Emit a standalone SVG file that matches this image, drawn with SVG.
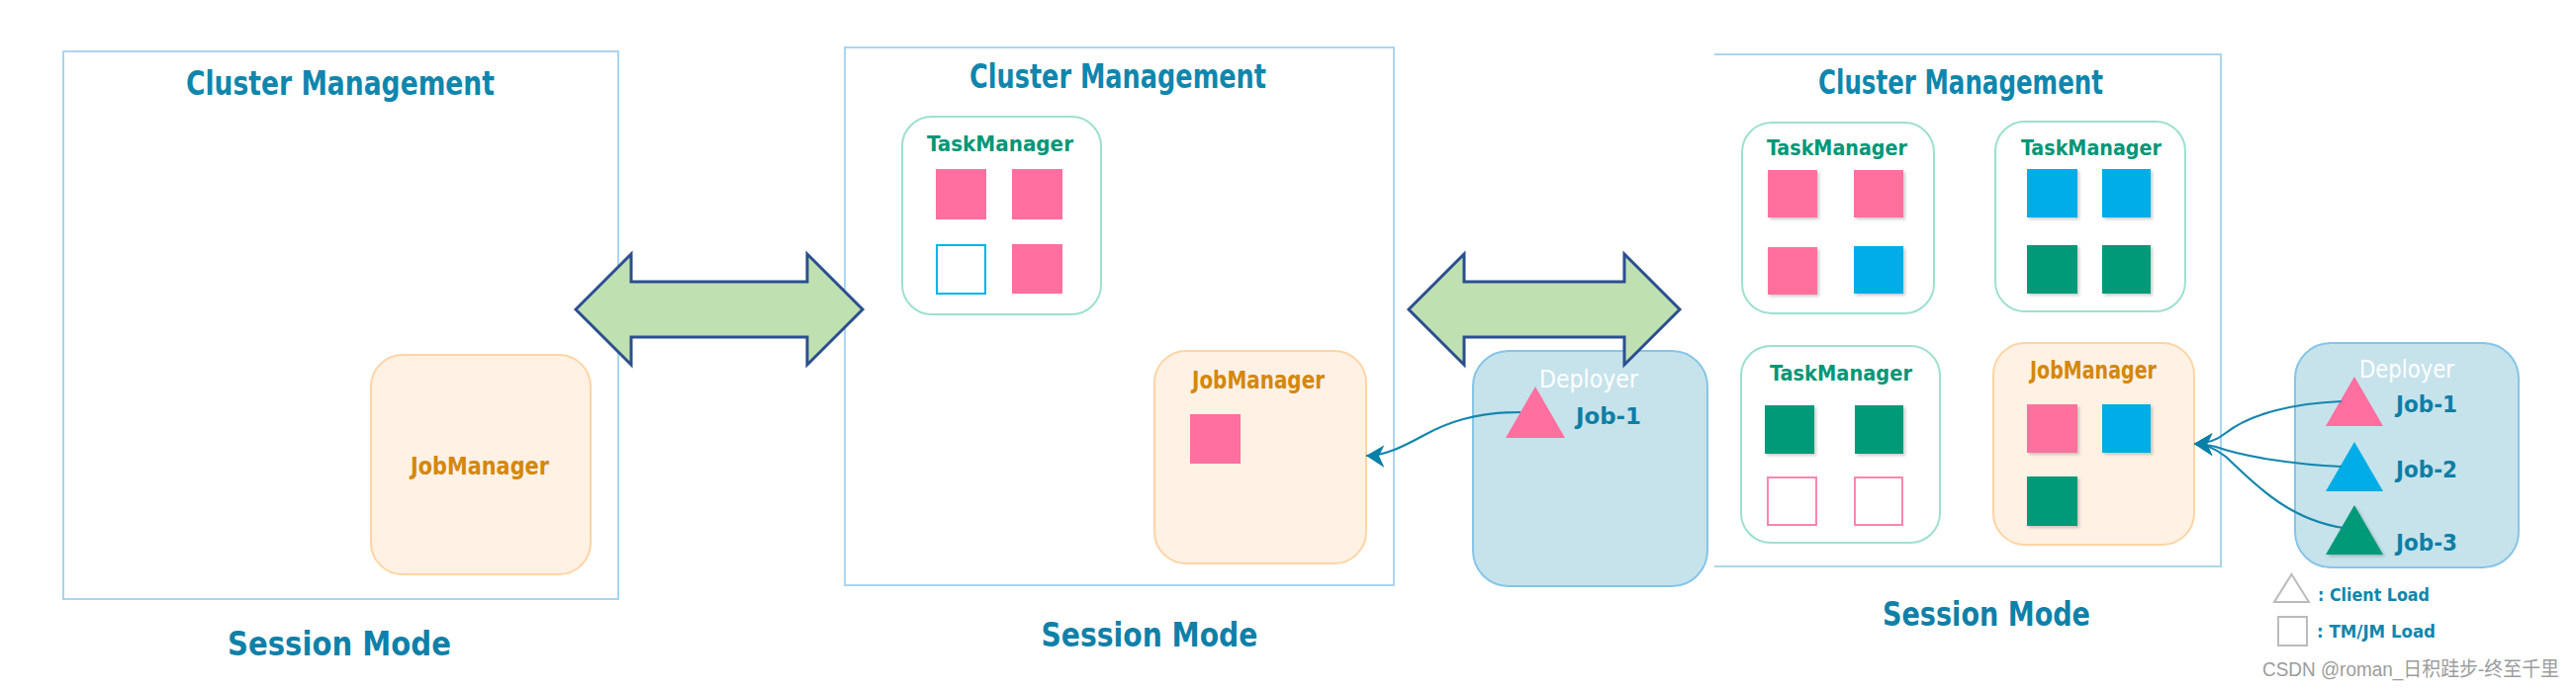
<svg xmlns="http://www.w3.org/2000/svg" width="2604" height="698" viewBox="0 0 2604 698">
<style>
.t{font-family:"DejaVu Sans Condensed","DejaVu Sans",sans-serif;font-stretch:condensed;font-weight:bold}
.cm{fill:#0F86AD;font-size:33px;text-anchor:middle}
.sm{fill:#0F80A8;font-size:34px;text-anchor:middle}
.tmt{fill:#009676;font-size:22px;text-anchor:middle}
.jmt{fill:#D4870A;font-size:24px;text-anchor:middle}
.dpt{fill:#FFFFFF;font-size:24px;text-anchor:middle;font-weight:normal}
.job{fill:#0E7EA6;font-size:23px}
.lg{fill:#0F86AD;font-size:17px}
.panel{fill:#FFFFFF;stroke:#AAD5F0;stroke-width:2}
.tm{fill:#FFFFFF;stroke:#9DE0CF;stroke-width:2}
.jm{fill:#FFF1E4;stroke:#FFD4A3;stroke-width:2}
.dp{fill:#C6E3EB;stroke:#86C5E8;stroke-width:2}
.pk{fill:#FF6F9F}
.bl{fill:#00ADE6}
.gr{fill:#009A78}
.dbl{fill:#BFE0B0;stroke:#2B4F8F;stroke-width:3;stroke-linejoin:miter}
.con{fill:none;stroke:#1386AE;stroke-width:2.2;marker-end:url(#ah)}
.leg{fill:none;stroke:#BBBBBB;stroke-width:2}
</style>
<defs>
<marker id="ah" markerUnits="userSpaceOnUse" markerWidth="24" markerHeight="26" viewBox="-2 -12 22 24" refX="0" refY="0" orient="0">
<path d="M0,0 L17,-10 L12,0 L17,11 Z" fill="#0A7FA8"/>
</marker>
<filter id="sh" x="-20%" y="-20%" width="150%" height="150%">
<feDropShadow dx="2" dy="2" stdDeviation="1.5" flood-color="#000" flood-opacity="0.2"/>
</filter>
</defs>

<g id="panel1">
<rect class="panel" x="64" y="52" width="561" height="554"/>
<text class="t cm" x="344" y="96" textLength="312" lengthAdjust="spacingAndGlyphs">Cluster Management</text>
</g>
<g id="jobmanager1">
<rect class="jm" x="375" y="359" width="222" height="222" rx="32"/>
<text class="t jmt" x="485" y="480" textLength="140" lengthAdjust="spacingAndGlyphs">JobManager</text>
</g>
<text class="t sm" x="343" y="663" textLength="226" lengthAdjust="spacingAndGlyphs">Session Mode</text>

<g id="panel2">
<rect class="panel" x="854" y="48" width="555" height="544"/>
<text class="t cm" x="1130" y="89" textLength="300" lengthAdjust="spacingAndGlyphs">Cluster Management</text>
</g>
<g id="taskmanager2">
<rect class="tm" x="912" y="118" width="201" height="200" rx="30"/>
<text class="t tmt" x="1011" y="153" textLength="148" lengthAdjust="spacingAndGlyphs">TaskManager</text>
<rect class="pk" x="946" y="171" width="51" height="51"/>
<rect class="pk" x="1023" y="171" width="51" height="51"/>
<rect x="947" y="248" width="49" height="49" fill="#FFFFFF" stroke="#00B4EA" stroke-width="2"/>
<rect class="pk" x="1023" y="247" width="51" height="50"/>
</g>
<g id="jobmanager2">
<rect class="jm" x="1167" y="355" width="214" height="215" rx="32"/>
<text class="t jmt" x="1272" y="393" textLength="134" lengthAdjust="spacingAndGlyphs">JobManager</text>
<rect class="pk" x="1203" y="419" width="51" height="50"/>
</g>
<g id="deployer2">
<rect class="dp" x="1489" y="355" width="237" height="238" rx="36"/>
<text class="t dpt" x="1606" y="392" textLength="100" lengthAdjust="spacingAndGlyphs">Deployer</text>
<polygon class="pk" points="1552,391 1582,443 1522,443"/>
<text class="t job" x="1593" y="429" textLength="66" lengthAdjust="spacingAndGlyphs">Job-1</text>
</g>
<text class="t sm" x="1162" y="654" textLength="219" lengthAdjust="spacingAndGlyphs">Session Mode</text>

<g id="panel3">
<path d="M1733,55 H2245 V573 H1733" fill="#FFFFFF" stroke="#AAD5F0" stroke-width="2"/>
<text class="t cm" x="1982" y="95" textLength="288" lengthAdjust="spacingAndGlyphs">Cluster Management</text>
</g>
<g id="taskmanager3a">
<rect class="tm" x="1761" y="124" width="194" height="193" rx="30"/>
<text class="t tmt" x="1857" y="157" textLength="142" lengthAdjust="spacingAndGlyphs">TaskManager</text>
<g filter="url(#sh)">
<rect class="pk" x="1787" y="172" width="50" height="48"/>
<rect class="pk" x="1874" y="172" width="50" height="48"/>
<rect class="pk" x="1787" y="250" width="50" height="48"/>
<rect class="bl" x="1874" y="249" width="50" height="48"/>
</g>
</g>
<g id="taskmanager3b">
<rect class="tm" x="2017" y="123" width="192" height="192" rx="30"/>
<text class="t tmt" x="2114" y="157" textLength="142" lengthAdjust="spacingAndGlyphs">TaskManager</text>
<g filter="url(#sh)">
<rect class="bl" x="2049" y="171" width="51" height="49"/>
<rect class="bl" x="2125" y="171" width="49" height="49"/>
<rect class="gr" x="2049" y="248" width="51" height="49"/>
<rect class="gr" x="2125" y="248" width="49" height="49"/>
</g>
</g>
<g id="taskmanager3c">
<rect class="tm" x="1760" y="350" width="201" height="199" rx="30"/>
<text class="t tmt" x="1861" y="385" textLength="144" lengthAdjust="spacingAndGlyphs">TaskManager</text>
<g filter="url(#sh)">
<rect class="gr" x="1784" y="410" width="50" height="49"/>
<rect class="gr" x="1875" y="410" width="49" height="49"/>
</g>
<rect x="1787" y="483" width="49" height="48" fill="#FFFFFF" stroke="#FF85AE" stroke-width="2"/>
<rect x="1875" y="483" width="48" height="48" fill="#FFFFFF" stroke="#FF85AE" stroke-width="2"/>
</g>
<g id="jobmanager3">
<rect class="jm" x="2015" y="347" width="203" height="204" rx="32"/>
<text class="t jmt" x="2116" y="383" textLength="128" lengthAdjust="spacingAndGlyphs">JobManager</text>
<g filter="url(#sh)">
<rect class="pk" x="2049" y="409" width="51" height="49"/>
<rect class="bl" x="2125" y="409" width="49" height="49"/>
<rect class="gr" x="2049" y="482" width="51" height="50"/>
</g>
</g>
<g id="deployer3">
<rect class="dp" x="2320" y="347" width="226" height="227" rx="36"/>
<text class="t dpt" x="2433" y="382" textLength="96" lengthAdjust="spacingAndGlyphs">Deployer</text>
<polygon class="pk" points="2380,381 2409,431 2351,431"/>
<polygon class="bl" points="2380,447 2409,497 2351,497"/>
<polygon class="gr" points="2380,511 2409,561 2351,561" filter="url(#sh)"/>
<text class="t job" x="2422" y="417" textLength="62" lengthAdjust="spacingAndGlyphs">Job-1</text>
<text class="t job" x="2422" y="483" textLength="62" lengthAdjust="spacingAndGlyphs">Job-2</text>
<text class="t job" x="2422" y="557" textLength="62" lengthAdjust="spacingAndGlyphs">Job-3</text>
</g>
<text class="t sm" x="2008" y="633" textLength="210" lengthAdjust="spacingAndGlyphs">Session Mode</text>

<g id="arrows">
<polygon class="dbl" points="582,313 638,257 638,285 816,285 816,257 872,313 816,369 816,341 638,341 638,369"/>
<polygon class="dbl" points="1424,313 1480,257 1480,285 1642,285 1642,257 1698,313 1642,369 1642,341 1480,341 1480,369"/>
</g>

<g id="connectors">
<path class="con" d="M1537,417 C1490,417 1462,428 1440,440 C1418,452 1400,461 1381,461"/>
<path class="con" d="M2367,406 C2320,408 2275,418 2250,438 C2240,446 2230,449 2218,449"/>
<path class="con" d="M2367,472 C2320,470 2268,462 2240,452 C2232,450 2226,449 2218,449"/>
<path class="con" d="M2369,534 C2310,525 2275,485 2250,462 C2240,454 2230,449 2218,449"/>
</g>

<g id="legend">
<polygon class="leg" points="2316.5,581 2334,609 2299,609"/>
<text class="t lg" x="2343" y="608" textLength="113" lengthAdjust="spacingAndGlyphs">: Client Load</text>
<rect class="leg" x="2303" y="624" width="29" height="29"/>
<text class="t lg" x="2342" y="645" textLength="120" lengthAdjust="spacingAndGlyphs">: TM/JM Load</text>
</g>

<text x="2287" y="684" font-family="'Liberation Sans','Noto Sans CJK SC',sans-serif" font-size="20" fill="#9C9C9C" textLength="300" lengthAdjust="spacingAndGlyphs">CSDN @roman_日积跬步-终至千里</text>
</svg>
